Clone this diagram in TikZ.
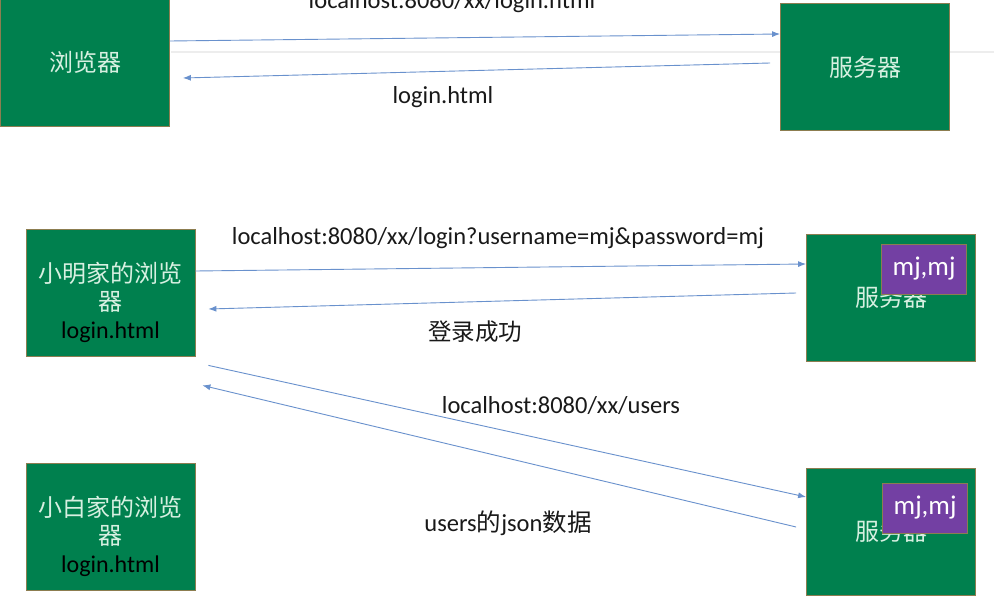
\documentclass[tikz,border=0pt]{standalone}
\usepackage{fontspec}
\setmainfont{Carlito}
\newfontfamily\cjk{Noto Sans CJK SC}
\usetikzlibrary{arrows.meta}

\definecolor{boxgreen}{RGB}{0,128,78}
\definecolor{boxline}{RGB}{140,125,80}
\definecolor{txtgreen}{RGB}{215,240,225}
\definecolor{mjpurple}{RGB}{115,64,163}
\definecolor{arrblue}{RGB}{105,145,205}

\tikzset{
  hostbox/.style={draw=boxline, line width=0.8pt, fill=boxgreen,
    minimum width=169pt, minimum height=127pt, inner sep=0pt,
    text=txtgreen, font=\cjk\fontsize{24}{28}\selectfont, align=center},
  hosttxt/.style={inner sep=0pt, text=txtgreen, align=center,
    font=\cjk\fontsize{24}{28}\selectfont},
  databox/.style={draw=boxline, line width=0.6pt, fill=mjpurple,
    minimum width=85pt, minimum height=50pt, inner sep=0pt,
    text=white, font=\fontsize{27}{30}\selectfont, anchor=north east},
  req/.style={draw=arrblue, line width=0.9pt, -{Latex[length=8pt,width=6pt]}},
  lbl/.style={inner sep=0pt, text=black!90, font=\fontsize{24.5}{28}\selectfont}
}

\begin{document}
\begin{tikzpicture}[x=1pt, y=-1pt]

    \useasboundingbox (0,0) rectangle (994,599);
    \fill[white] (0,0) rectangle (994,599);

    % 背景上的浅色横线
    \draw[black!7, line width=2pt] (171,52) -- (994,52);

    % 第一行：浏览器和服务器
    \node[hostbox] (llq) at (85,62.5) {浏览器};
    \node[hostbox] (fwq) at (865,67) {服务器};

    \draw[req] ([yshift=21.5]llq.east) -- ([yshift=33]fwq.west);
    \draw[req] ([xshift=-10,yshift=4]fwq.west) -- ([xshift=13,yshift=-15.5]llq.east);

    \node[lbl] (url1) at (452,2.5) {localhost:8080/xx/login.html};
    \node[lbl] (page1) at (443,97) {login.html};

    % 第二行：小明家的浏览器登录
    \node[hostbox] (ming) at (110.5,292.5) {};
    \node[hosttxt] (mingtxt) at ([yshift=-10]ming.center)
      {小明家的浏览\\器\\{\rmfamily\color{black}login.html}};
    \node[hostbox] (fwq2) at (891,297.5) {服务器};
    \node[databox] (mj1) at ([xshift=-9,yshift=-10]fwq2.north east) {mj,mj};

    \draw[req] ([yshift=21.5]ming.east) -- ([yshift=33.5]fwq2.west);
    \draw[req] ([xshift=-10,yshift=4.5]fwq2.west) -- ([xshift=13,yshift=-16.5]ming.east);

    \node[lbl] (url2) at (498,238) {localhost:8080/xx/login?username=mj\&password=mj};
    \node[lbl, font=\cjk\fontsize{23.5}{28}\selectfont] (ok) at (475,332) {登录成功};

    % 第三行：小白家的浏览器
    \node[hostbox] (bai) at (110.5,526.5) {};
    \node[hosttxt] (baitxt) at ([yshift=-10]bai.center)
      {小白家的浏览\\器\\{\rmfamily\color{black}login.html}};
    \node[hostbox] (fwq3) at (891,531.5) {服务器};
    \node[databox] (mj2) at ([xshift=-8,yshift=-15]fwq3.north east) {mj,mj};

    \draw[req] ([xshift=13,yshift=-9]ming.south east) -- ([yshift=34.5]fwq3.west);
    \draw[req] ([xshift=-10,yshift=4.5]fwq3.west) -- ([xshift=7,yshift=-29]ming.south east);

    \node[lbl] (url3) at (561,406) {localhost:8080/xx/users};
    \node[lbl] (json) at (508,523) {users{\cjk 的}json{\cjk 数据}};

  \end{tikzpicture}
\end{document}
